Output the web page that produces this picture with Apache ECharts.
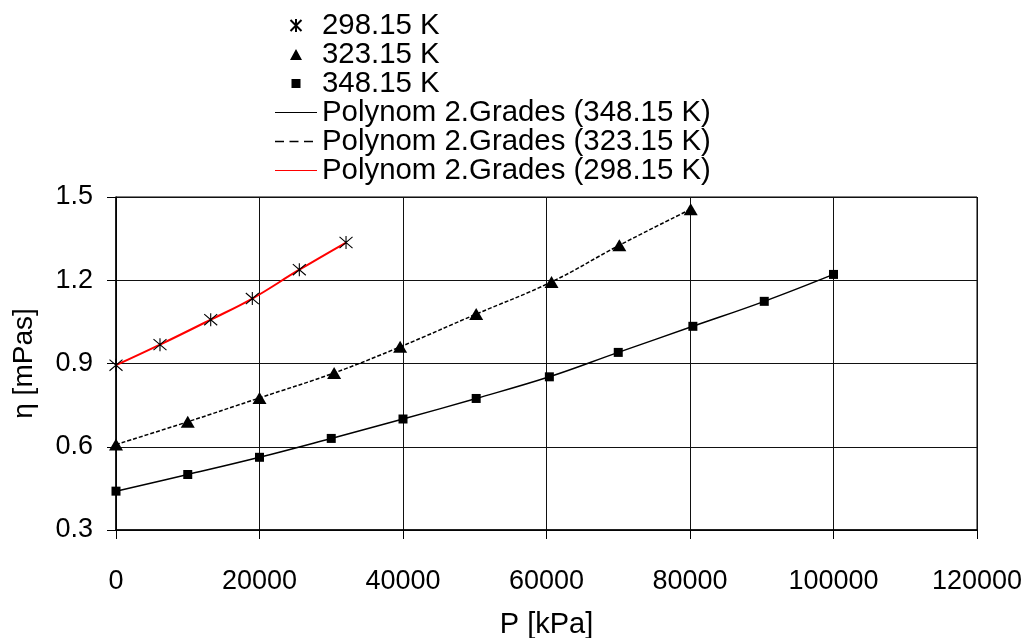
<!DOCTYPE html>
<html>
<head>
<meta charset="utf-8">
<script src="https://cdn.jsdelivr.net/npm/echarts@6/dist/echarts.min.js"></script>
<style>html,body{margin:0;padding:0;background:#fff}#c{width:1028px;height:638px}</style>
</head>
<body>
<div id="c"></div>
<script>
// Data
const p298 = [0, 6130, 13200, 19000, 25550, 32060];
const eta298 = [0.894, 0.968, 1.058, 1.134, 1.238, 1.336];
const p323 = [0, 10000, 20000, 30400, 39600, 50200, 60700, 70150, 80100];
const eta323 = [0.608, 0.690, 0.776, 0.866, 0.960, 1.078, 1.194, 1.326, 1.456];
const p348 = [0, 10000, 20000, 30000, 40000, 50200, 60400, 70000, 80400, 90350, 100000];
const eta348 = [0.440, 0.500, 0.562, 0.630, 0.700, 0.774, 0.852, 0.940, 1.034, 1.124, 1.221];
const xTicks = { min: 0, max: 120000, interval: 20000 };
const yTicks = { min: 0.3, max: 1.5, interval: 0.3 };
const names = ['298.15 K', '323.15 K', '348.15 K',
  'Polynom 2.Grades (348.15 K)', 'Polynom 2.Grades (323.15 K)', 'Polynom 2.Grades (298.15 K)'];

const zip = (a, b) => a.map((v, i) => [v, b[i]]);
const FONT = 'Liberation Sans, Arial, sans-serif';
const asterisk = 'path://M-6,-6L6,6M6,-6L-6,6M0,-7L0,7';
const legendAsterisk = 'path://M-7,-7L-7,-7ZM-5.5,-5.5L5.5,5.5M5.5,-5.5L-5.5,5.5M0,-6.5L0,6.5M7,7L7,7Z';
const legendTriangle = 'path://M0,0L0,0ZM7,1.5L13,12.5L1,12.5ZM14,14L14,14Z';
const legendSquare = 'path://M0,0L0,0ZM2.5,2.5L11.5,2.5L11.5,11.5L2.5,11.5ZM14,14L14,14Z';
const legendSolid = 'path://M0,0L0,0ZM0,6.4L42,6.4L42,7.6L0,7.6ZM42,14L42,14Z';
const legendDashed = 'path://M0,0L0,0ZM0,6.2L9,6.2L9,7.8L0,7.8ZM14.5,6.2L23.5,6.2L23.5,7.8L14.5,7.8ZM29,6.2L38,6.2L38,7.8L29,7.8ZM42,14L42,14Z';

const chart = echarts.init(document.getElementById('c'));
chart.setOption({
  animation: false,
  backgroundColor: '#fff',
  textStyle: { fontFamily: FONT, color: '#000' },
  legend: {
    orient: 'vertical', left: 270, top: 6,
    itemWidth: 42, itemHeight: 14, itemGap: 0,
    textStyle: { fontSize: 29.4, lineHeight: 28, color: '#000', fontFamily: FONT },
    data: [
      { name: names[0], icon: legendAsterisk },
      { name: names[1], icon: legendTriangle },
      { name: names[2], icon: legendSquare },
      { name: names[3], icon: legendSolid },
      { name: names[4], icon: legendDashed },
      { name: names[5], icon: legendSolid }
    ]
  },
  grid: { left: 116, right: 51, top: 197, bottom: 108, show: true, borderColor: '#000', borderWidth: 1,
    containLabel: false, outerBoundsMode: 'none' },
  xAxis: {
    type: 'value', min: xTicks.min, max: xTicks.max, interval: xTicks.interval,
    name: 'P [kPa]', nameLocation: 'middle', nameGap: 80,
    nameTextStyle: { fontSize: 29, color: '#000', fontFamily: FONT },
    axisLine: { lineStyle: { color: '#000', width: 1.5 } },
    axisTick: { show: true, length: 9, lineStyle: { color: '#000' } },
    axisLabel: { fontSize: 27, color: '#000', margin: 38, fontFamily: FONT, formatter: v => String(Math.round(v)) },
    splitLine: { show: true, lineStyle: { color: '#111', width: 1 } }
  },
  yAxis: {
    type: 'value', min: yTicks.min, max: yTicks.max, interval: yTicks.interval,
    name: 'η [mPas]', nameLocation: 'middle', nameGap: 78, nameRotate: 90,
    nameTextStyle: { fontSize: 28, color: '#000', fontFamily: FONT },
    axisLine: { show: true, lineStyle: { color: '#000', width: 1.5 } },
    axisTick: { show: true, length: 9, lineStyle: { color: '#000' } },
    axisLabel: { fontSize: 27, color: '#000', margin: 23, fontFamily: FONT, formatter: v => v.toFixed(1) },
    splitLine: { show: true, lineStyle: { color: '#111', width: 1 } }
  },
  series: [
    { name: names[0], type: 'scatter', data: zip(p298, eta298), symbol: asterisk, symbolSize: 13, z: 5,
      itemStyle: { color: 'none', borderColor: '#000', borderWidth: 1.1, opacity: 1 } },
    { name: names[1], type: 'scatter', data: zip(p323, eta323), symbol: 'triangle', symbolSize: [14, 12], z: 5,
      itemStyle: { color: '#000', opacity: 1 } },
    { name: names[2], type: 'scatter', data: zip(p348, eta348), symbol: 'rect', symbolSize: 9, z: 5,
      itemStyle: { color: '#000', opacity: 1 } },
    { name: names[3], type: 'line', data: zip(p348, eta348), smooth: 0.4, symbol: 'none', z: 3,
      lineStyle: { color: '#000', width: 1.5, type: 'solid' }, itemStyle: { color: '#000' } },
    { name: names[4], type: 'line', data: zip(p323, eta323), smooth: 0.4, symbol: 'none', z: 3,
      lineStyle: { color: '#000', width: 1.5, type: [4, 2] }, itemStyle: { color: '#000' } },
    { name: names[5], type: 'line', data: zip(p298, eta298), smooth: 0.4, symbol: 'none', z: 3,
      lineStyle: { color: '#ff0000', width: 2, type: 'solid' }, itemStyle: { color: '#ff0000' } }
  ]
});
</script>
</body>
</html>
